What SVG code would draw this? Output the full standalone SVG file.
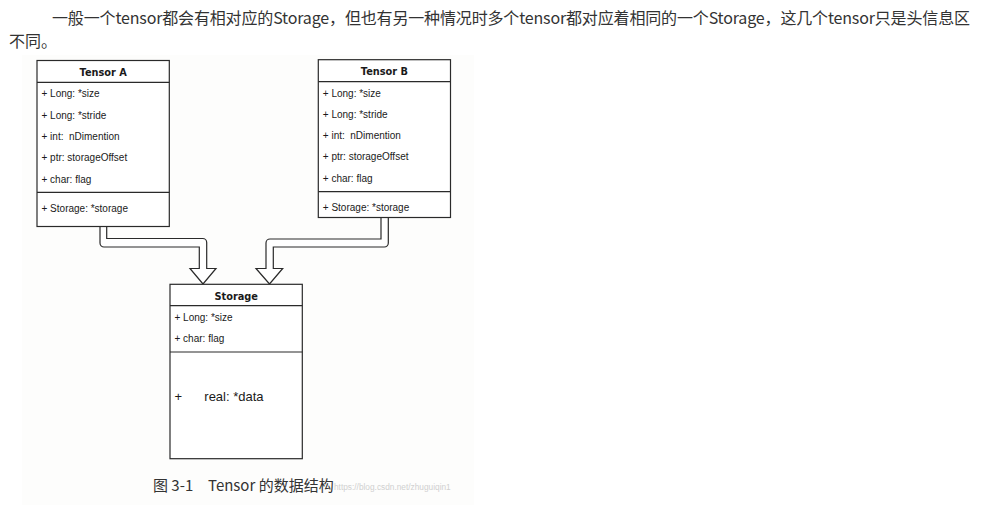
<svg xmlns="http://www.w3.org/2000/svg" width="987" height="512" viewBox="0 0 987 512">
<style>
.para{font-family:"Noto Sans CJK SC","Noto Sans",sans-serif;font-size:16px;fill:#333}
.box{fill:#fff;stroke:#2a2a2a;stroke-width:1.2}
.sep{stroke:#2a2a2a;stroke-width:1.2}
.hdr{font-family:"DejaVu Sans",sans-serif;font-weight:bold;font-size:9.8px;fill:#1a1a1a;text-anchor:middle}
.attr{font-family:"Liberation Sans",Arial,sans-serif;font-size:10px;fill:#1a1a1a}
.big{font-family:"Liberation Sans",Arial,sans-serif;font-size:13px;fill:#1a1a1a}
.arrow{fill:#fff;stroke:#2a2a2a;stroke-width:1.2;stroke-linejoin:miter}
.cap{font-family:"Noto Sans CJK SC","Noto Sans",sans-serif;font-size:15px;fill:#333}
.wm{font-family:"Liberation Sans",Arial,sans-serif;font-size:8.3px;fill:#d0d0d0}
</style>
<rect x="0" y="0" width="987" height="512" fill="#fff"/>
<text class="para" x="52" y="24" textLength="918" lengthAdjust="spacing">一般一个tensor都会有相对应的Storage，但也有另一种情况时多个tensor都对应着相同的一个Storage，这几个tensor只是头信息区</text>
<text class="para" x="9" y="47">不同。</text>
<rect x="22" y="55" width="452" height="450" fill="#fdfdfc"/>
<g id="connectors">
<path class="arrow" d="M100,226.5 L100,243 A4,4 0 0 0 104,247 L199.3,247 L199.3,268.5 L190,268.5 L203,284 L216,268.5 L206.7,268.5 L206.7,242.5 A4,4 0 0 0 202.7,238.5 L106.7,238.5 L106.7,226.5"/>
<path class="arrow" d="M388.3,217.5 L388.3,243 A4,4 0 0 1 384.3,247 L273.3,247 L273.3,268.5 L282.7,268.5 L269.5,284 L256,268.5 L266,268.5 L266,243 A4,4 0 0 1 270,239 L381,239 L381,217.5"/>
</g>
<g id="tensorA">
<rect class="box" x="37" y="60.5" width="132.3" height="166"/>
<line class="sep" x1="37" y1="82.3" x2="169.3" y2="82.3"/>
<line class="sep" x1="37" y1="192.3" x2="169.3" y2="192.3"/>
<text class="hdr" x="103.2" y="76">Tensor A</text>
<text class="attr" x="41.5" y="97.3">+ Long: *size</text>
<text class="attr" x="41.5" y="118.5">+ Long: *stride</text>
<text class="attr" x="41.5" y="139.6" xml:space="preserve">+ int:  nDimention</text>
<text class="attr" x="41.5" y="161">+ ptr: storageOffset</text>
<text class="attr" x="41.5" y="182.7">+ char: flag</text>
<text class="attr" x="41.5" y="211.7">+ Storage: *storage</text>
</g>
<g id="tensorB">
<rect class="box" x="318.3" y="59.7" width="132.2" height="157.8"/>
<line class="sep" x1="318.3" y1="81.7" x2="450.5" y2="81.7"/>
<line class="sep" x1="318.3" y1="191.7" x2="450.5" y2="191.7"/>
<text class="hdr" x="384.4" y="75.3">Tensor B</text>
<text class="attr" x="322.8" y="96.5">+ Long: *size</text>
<text class="attr" x="322.8" y="117.8">+ Long: *stride</text>
<text class="attr" x="322.8" y="139" xml:space="preserve">+ int:  nDimention</text>
<text class="attr" x="322.8" y="160.4">+ ptr: storageOffset</text>
<text class="attr" x="322.8" y="182.3">+ char: flag</text>
<text class="attr" x="322.8" y="210.8">+ Storage: *storage</text>
</g>
<g id="storage">
<rect class="box" x="170" y="284.3" width="132.3" height="174.4"/>
<line class="sep" x1="170" y1="305.7" x2="302.3" y2="305.7"/>
<line class="sep" x1="170" y1="352" x2="302.3" y2="352"/>
<text class="hdr" x="236.2" y="299.5">Storage</text>
<text class="attr" x="174.5" y="320.8">+ Long: *size</text>
<text class="attr" x="174.5" y="342.2">+ char: flag</text>
<text class="big" x="174.5" y="401">+</text>
<text class="big" x="204.3" y="401">real: *data</text>
</g>
<text class="cap" x="153" y="491">图 3-1</text>
<text class="cap" x="208" y="491">Tensor 的数据结构</text>
<text class="wm" x="334" y="490">https://blog.csdn.net/zhuguiqin1</text>
</svg>
